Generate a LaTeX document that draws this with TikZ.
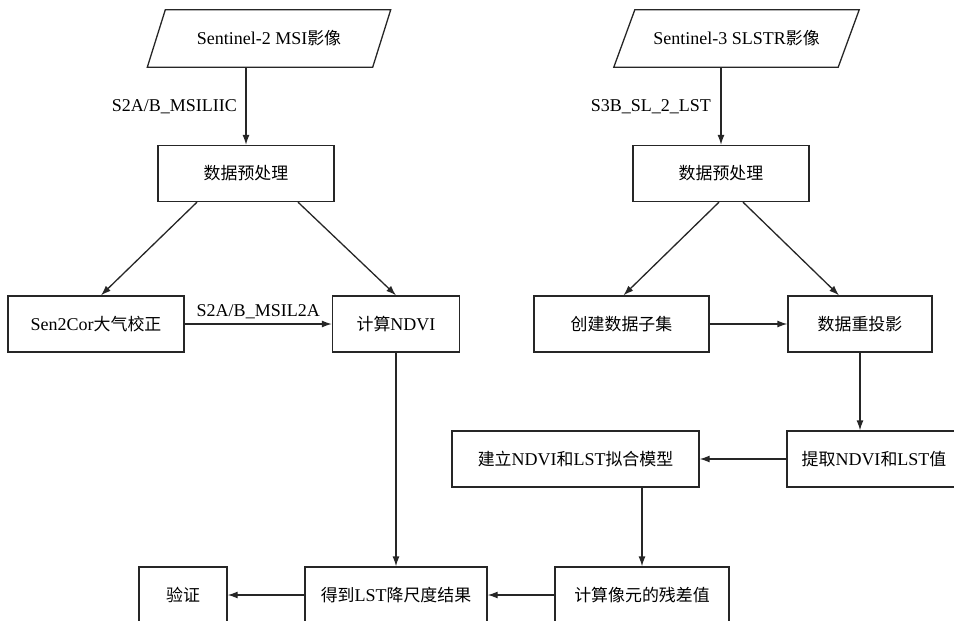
\documentclass[tikz,border=0pt]{standalone}
\usepackage{fontspec}
\setmainfont{Liberation Serif}
\newfontfamily\cjk{Noto Sans CJK SC}[Scale=0.94]
\usepackage{tikz}
\usetikzlibrary{arrows.meta}

\tikzset{
    procbox/.style={draw=black!85, line width=1.3pt, minimum height=56pt, inner sep=0pt, font=\rmfamily\fontsize{18}{21}\selectfont},
    imgbox/.style={minimum height=57pt, inner sep=0pt, font=\rmfamily\fontsize{18}{21}\selectfont},
    flowlabel/.style={inner sep=0pt, font=\rmfamily\fontsize{18}{21}\selectfont},
    flow/.style={-{Latex[length=10pt,width=7pt]}, line width=1.3pt, draw=black!85},
    slant/.style={line width=1.3pt, draw=black!85},
}

\begin{document}
\begin{tikzpicture}[x=1pt,y=-1pt]
\useasboundingbox (0,0) rectangle (954,621);
\clip (0,0) rectangle (954,621);

% Input images
\node[imgbox, minimum width=225pt] (s2img) at (269,38.5) {Sentinel-2 MSI{\cjk 影像}};
\node[imgbox, minimum width=224pt] (s3img) at (736.5,38.5) {Sentinel-3 SLSTR{\cjk 影像}};
\draw[slant] ([xshift=9pt]s2img.north west) -- ([xshift=9pt]s2img.north east) -- ([xshift=-9pt]s2img.south east) -- ([xshift=-9pt]s2img.south west) -- cycle;
\draw[slant] ([xshift=10.5pt]s3img.north west) -- ([xshift=10.5pt]s3img.north east) -- ([xshift=-10.5pt]s3img.south east) -- ([xshift=-10.5pt]s3img.south west) -- cycle;

% Sentinel-2 branch
\node[procbox, minimum width=176pt] (pre1) at (246,173.5) {\cjk 数据预处理};
\node[procbox, minimum width=176pt] (sen2cor) at (96,324) {Sen2Cor{\cjk 大气校正}};
\node[procbox, minimum width=127pt] (ndvi) at (396,324) {{\cjk 计算}NDVI};

% Sentinel-3 branch
\node[procbox, minimum width=176pt] (pre2) at (721,173.5) {\cjk 数据预处理};
\node[procbox, minimum width=175pt] (subset) at (621.5,324) {\cjk 创建数据子集};
\node[procbox, minimum width=144pt] (reproj) at (860,324) {\cjk 数据重投影};
\node[procbox, minimum width=174pt] (extract) at (874,459) {{\cjk 提取}NDVI{\cjk 和}LST{\cjk 值}};
\node[procbox, minimum width=247pt] (model) at (575.5,459) {{\cjk 建立}NDVI{\cjk 和}LST{\cjk 拟合模型}};

% Results
\node[procbox, minimum width=174pt] (resid) at (642,595) {\cjk 计算像元的残差值};
\node[procbox, minimum width=182pt] (result) at (396,595) {{\cjk 得到}LST{\cjk 降尺度结果}};
\node[procbox, minimum width=88pt] (verify) at (183,595) {\cjk 验证};

% Arrows left
\draw[flow] (pre1.north |- s2img.south) -- (pre1.north);
\draw[flow] ([xshift=-49pt]pre1.south) -- ([xshift=5pt]sen2cor.north);
\draw[flow] ([xshift=52pt]pre1.south) -- (ndvi.north);
\draw[flow] (sen2cor.east) -- node[flowlabel, above=5pt] {S2A/B\_MSIL2A} (ndvi.west);
\draw[flow] (ndvi.south) -- (ndvi.south |- result.north);

% Arrows right
\draw[flow] (pre2.north |- s3img.south) -- (pre2.north);
\draw[flow] ([xshift=-2pt]pre2.south) -- ([xshift=2pt]subset.north);
\draw[flow] ([xshift=22pt]pre2.south) -- ([xshift=-21pt]reproj.north);
\draw[flow] (subset.east) -- (reproj.west);
\draw[flow] (reproj.south) -- (reproj.south |- extract.north);
\draw[flow] (extract.west) -- (model.east);
\draw[flow] (resid.north |- model.south) -- (resid.north);
\draw[flow] (resid.west) -- (result.east);
\draw[flow] (result.west) -- (verify.east);

% Labeling
\node[flowlabel, anchor=east] (lbl2) at (237,107) {S2A/B\_MSILIIC};
\node[flowlabel, anchor=east] (lbl3) at (711,107) {S3B\_SL\_2\_LST};

\end{tikzpicture}
\end{document}
